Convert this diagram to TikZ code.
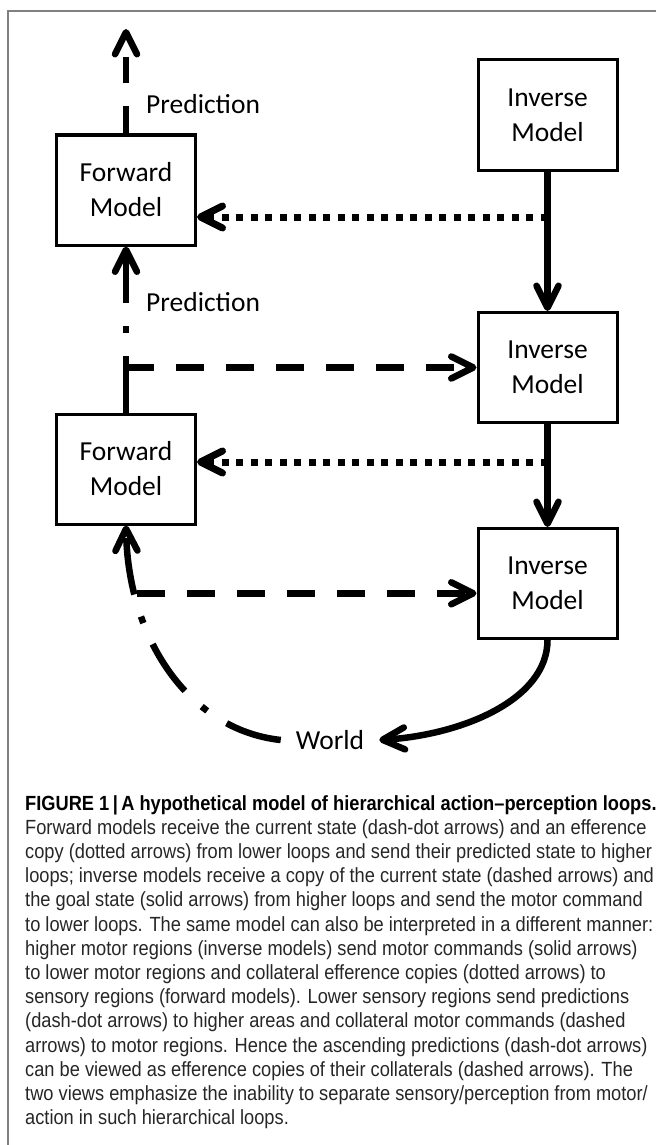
\documentclass[tikz,border=0pt]{standalone}
\usepackage{fontspec}
\setmainfont{Carlito}
\newfontfamily\capfont[FakeStretch=0.89]{Liberation Sans}
\usetikzlibrary{arrows.meta,calc}

\begin{document}
\begin{tikzpicture}[x=1pt,y=-1pt,
    >={Straight Barb[round,length=22pt,width=22pt]},
    modelbox/.style={draw,line width=3pt,minimum width=139pt,minimum height=110pt,
      inner sep=0pt,align=center,font=\fontsize{27.5}{35}\selectfont},
    txt/.style={inner sep=0pt,font=\fontsize{27.5}{35}\selectfont},
    motor/.style={line width=6.5pt},
    effcopy/.style={line width=7pt,dash pattern=on 7pt off 7.5pt},
    collat/.style={line width=6.5pt,dash pattern=on 28pt off 22pt},
    pred/.style={line width=6.5pt,dash pattern=on 57pt off 23pt on 7pt off 23pt}]
  \useasboundingbox (0,0) rectangle (656,1145);
  % frame
  \draw[gray,line width=1.2pt] (656,11) -- (8,11) -- (8,1145);
  % models
  \foreach \n/\y in {invA/115,invB/367.5,invC/583.5}
    \node[modelbox] (\n) at (547.5,\y) {Inverse\\Model};
  \foreach \n/\y in {fwdA/190,fwdB/469}
    \node[modelbox] (\n) at (126,\y) {Forward\\Model};
  \node[txt,inner xsep=15pt] (world) at (330,740) {World};
  \node[txt,anchor=west] (predA) at (146,104) {Prediction};
  \node[txt,anchor=west] (predB) at (146,302) {Prediction};
  % goal state / motor command
  \foreach \a/\b in {invA/invB,invB/invC}
    \draw[motor,->] (\a) -- (\b);
  \draw[motor,->] (invC.south) .. controls +(0,60) and +(82,-5) .. (world.east);
  % efference copies
  \coordinate (cA) at (invA.south |- 0,217);
  \coordinate (cB) at (invB.south |- 0,462);
  \draw[effcopy,->] (cA) -- (cA -| fwdA.east);
  \draw[effcopy,->] (cB) -- (cB -| fwdB.east);
  % predictions
  \coordinate (topend) at (fwdA.north |- 0,29);
  \draw[line width=6.5pt,dash pattern=on 27pt off 23pt on 26pt off 40pt,->] (fwdA.north) -- (topend);
  \draw[pred,->] (fwdB.north) -- (fwdA.south);
  \draw[pred,->] (world.west) .. controls +(-92,-10) and +(2,113) .. coordinate[pos=0.79] (jB) (fwdB.south);
  % current state copies
  \coordinate (jA) at (fwdB.north |- invB.west);
  \draw[collat,->] (jA) -- (invB.west);
  \draw[collat,->] ([xshift=2pt]jB) -- (jB -| invC.west);
  % caption
  \node[anchor=north west,inner sep=0pt,align=left,text=black!85,
    font=\capfont\fontsize{20.5}{24.2}\selectfont] (caption) at (25,795)
    {{\bfseries\color{black}FIGURE 1\,|\,A hypothetical model of hierarchical action–perception loops.}\\
     Forward models receive the current state (dash-dot arrows) and an efference\\
     copy (dotted arrows) from lower loops and send their predicted state to higher\\
     loops; inverse models receive a copy of the current state (dashed arrows) and\\
     the goal state (solid arrows) from higher loops and send the motor command\\
     to lower loops. The same model can also be interpreted in a different manner:\\
     higher motor regions (inverse models) send motor commands (solid arrows)\\
     to lower motor regions and collateral efference copies (dotted arrows) to\\
     sensory regions (forward models). Lower sensory regions send predictions\\
     (dash-dot arrows) to higher areas and collateral motor commands (dashed\\
     arrows) to motor regions. Hence the ascending predictions (dash-dot arrows)\\
     can be viewed as efference copies of their collaterals (dashed arrows). The\\
     two views emphasize the inability to separate sensory/perception from motor/\\
     action in such hierarchical loops.};
\end{tikzpicture}
\end{document}
